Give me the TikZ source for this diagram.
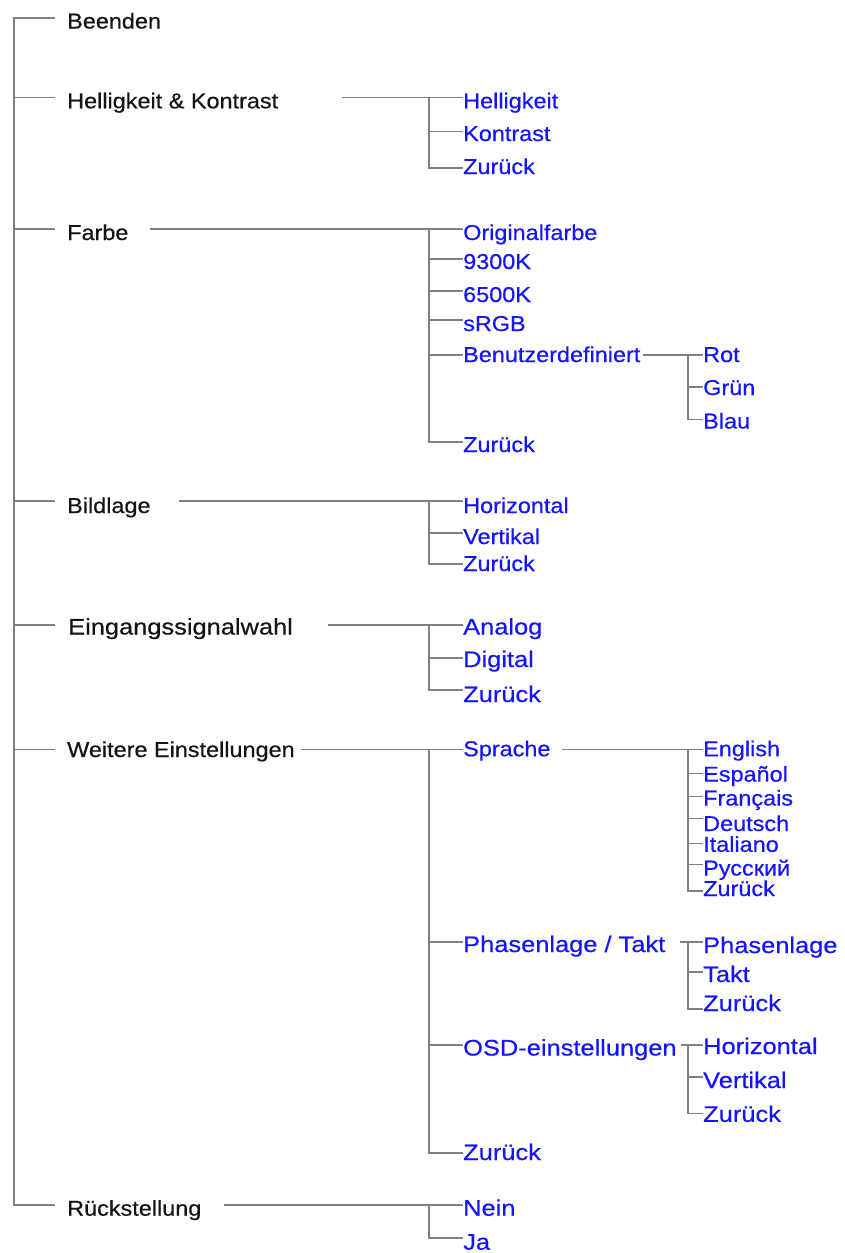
\documentclass[tikz,border=0pt]{standalone}
\usepackage{fontspec}
\setmainfont{Liberation Sans}
\newfontfamily\smf{Liberation Sans}[FakeStretch=1.09,FakeBold=0.5]
\newfontfamily\lgf{Liberation Sans}[FakeStretch=1.13,FakeBold=0.5]
\definecolor{menublue}{RGB}{20,20,255}
\definecolor{linegray}{RGB}{128,128,128}
\definecolor{menublack}{RGB}{20,20,20}
\begin{document}
\begin{tikzpicture}[x=1pt,y=-1pt,
  ln/.style={draw=linegray, line width=1.4pt},
  it/.style={anchor=west, inner sep=0pt, text depth=0pt, text height=21pt},
  sm/.style={it, font=\smf\fontsize{21.5}{22}\selectfont},
  lg/.style={it, font=\lgf\fontsize{22.5}{23}\selectfont},
  tp/.style={sm, text=menublack},
  tl/.style={lg, text=menublack},
  sb/.style={sm, text=menublue},
  lb/.style={lg, text=menublue}]
\useasboundingbox (0,0) rectangle (845,1253);
\coordinate (tx) at (14,0);
\coordinate (bx) at (429,0);
\coordinate (sx) at (688,0);
% top level
\node[tp] (beenden) at (67,18) {Beenden};
\node[tp, text height=21.6pt] (hk) at (67,97.5) {Helligkeit \& Kontrast};
\node[tp, text height=22pt] (farbe) at (67,229) {Farbe};
\node[tp, text height=24pt] (bild) at (67,501) {Bildlage};
\node[tl, text height=19pt] (eing) at (68,625) {Eingangssignalwahl};
\node[tp, text height=15pt] (weit) at (67,749.5) {Weitere Einstellungen};
\node[tp, text height=21.4pt] (rueck) at (67,1205) {Rückstellung};
% Helligkeit & Kontrast
\node[sb, text height=21.6pt] (hell) at (463,97.5) {Helligkeit};
\node[sb, text height=18.6pt] (kontr) at (463,131.7) {Kontrast};
\node[sb, text height=12pt] (hkz) at (463,168) {Zurück};
% Farbe
\node[sb, text height=22pt] (orig) at (463,229) {Originalfarbe};
\node[sb, text height=20pt] (k93) at (463,259) {9300K};
\node[sb, text height=22pt] (k65) at (463,291) {6500K};
\node[sb, text height=22pt] (srgb) at (463,320) {sRGB};
\node[sb, text height=14pt] (benu) at (463,355) {Benutzerdefiniert};
\node[sb, text height=20pt] (fz) at (463,442) {Zurück};
\node[sb, text height=14pt] (rot) at (703,355) {Rot};
\node[sb, text height=16pt] (gruen) at (703,387) {Grün};
\node[sb, text height=18pt] (blau) at (703,419.5) {Blau};
% Bildlage
\node[sb, text height=24pt] (bh) at (463,501) {Horizontal};
\node[sb, text height=22pt] (bv) at (463,533) {Vertikal};
\node[sb, text height=14pt] (bz) at (463,564) {Zurück};
% Eingangssignalwahl
\node[lb, text height=19pt] (an) at (463,625) {Analog};
\node[lb, text height=18pt] (dig) at (463,658) {Digital};
\node[lb, text height=24pt] (ez) at (463,690) {Zurück};
% Weitere Einstellungen
\node[sb, text height=13.4pt] (spr) at (463,749.5) {Sprache};
\node[lb, text height=20pt] (pt) at (463,942) {Phasenlage / Takt};
\node[lb, text height=21pt] (osd) at (463,1045) {OSD-einstellungen};
\node[lb, text height=14pt] (wz) at (463,1153) {Zurück};
% Sprache
\node[sb, text height=13.4pt] (en) at (703,749.5) {English};
\node[sb, text height=16.6pt] (es) at (703,773.3) {Español};
\node[sb, text height=18pt] (fr) at (703,796.5) {Français};
\node[sb, text height=25pt] (de) at (703,818.5) {Deutsch};
\node[sb, text height=16.6pt] (itl) at (703,843.5) {Italiano};
\node[sb, text height=22pt] (ru) at (703,864.5) {Русский};
\node[sb, text height=10pt] (sz) at (703,891) {Zurück};
% Phasenlage / Takt
\node[lb, text height=22pt] (ph) at (703,942) {Phasenlage};
\node[lb, text height=20pt] (ta) at (703,972) {Takt};
\node[lb, text height=4pt] (pz) at (703,1009) {Zurück};
% OSD
\node[lb, text height=18pt] (ho) at (703,1045) {Horizontal};
\node[lb, text height=22pt] (ve) at (703,1077) {Vertikal};
\node[lb, text height=16.6pt] (oz) at (703,1113.5) {Zurück};
% Rückstellung
\node[lb, text height=21.4pt] (nein) at (463,1205) {Nein};
\node[lb, text height=23.4pt] (ja) at (463,1238) {Ja};
% trunk
\draw[ln] ([xshift=-12pt]beenden.west) -- (beenden.west -| tx) -- (rueck.west -| tx) -- ([xshift=-12pt]rueck.west);
\foreach \n in {hk,farbe,bild,weit}
  \draw[ln] (\n.west -| tx) -- ([xshift=-12pt]\n.west);
\draw[ln] (eing.west -| tx) -- ([xshift=-13pt]eing.west);
% Helligkeit & Kontrast
\draw[ln] ([xshift=64pt]hk.east) -- (hell.west);
\foreach \c in {kontr,hkz} \draw[ln] (hell.west -| bx) |- (\c.west);
% Farbe
\draw[ln] ([xshift=21pt]farbe.east) -- (orig.west);
\foreach \c in {k93,k65,srgb,benu,fz} \draw[ln] (orig.west -| bx) |- (\c.west);
\draw[ln] ([xshift=2pt]benu.east) -- (rot.west);
\foreach \c in {gruen,blau} \draw[ln] (rot.west -| sx) |- (\c.west);
% Bildlage
\draw[ln] ([xshift=28pt]bild.east) -- (bh.west);
\foreach \c in {bv,bz} \draw[ln] (bh.west -| bx) |- (\c.west);
% Eingangssignalwahl
\draw[ln] ([xshift=35pt]eing.east) -- (an.west);
\foreach \c in {dig,ez} \draw[ln] (an.west -| bx) |- (\c.west);
% Weitere Einstellungen
\draw[ln] ([xshift=6pt]weit.east) -- (spr.west);
\foreach \c in {pt,osd,wz} \draw[ln] (spr.west -| bx) |- (\c.west);
\draw[ln] ([xshift=11pt]spr.east) -- (en.west);
\foreach \c in {es,fr,de,itl,ru,sz} \draw[ln] (en.west -| sx) |- (\c.west);
\draw[ln] ([xshift=14pt]pt.east) -- (ph.west);
\foreach \c in {ta,pz} \draw[ln] (ph.west -| sx) |- (\c.west);
\draw[ln] ([xshift=4pt]osd.east) -- (ho.west);
\foreach \c in {ve,oz} \draw[ln] (ho.west -| sx) |- (\c.west);
% Rückstellung
\draw[ln] ([xshift=22pt]rueck.east) -- (nein.west);
\draw[ln] (nein.west -| bx) |- (ja.west);
\end{tikzpicture}
\end{document}
